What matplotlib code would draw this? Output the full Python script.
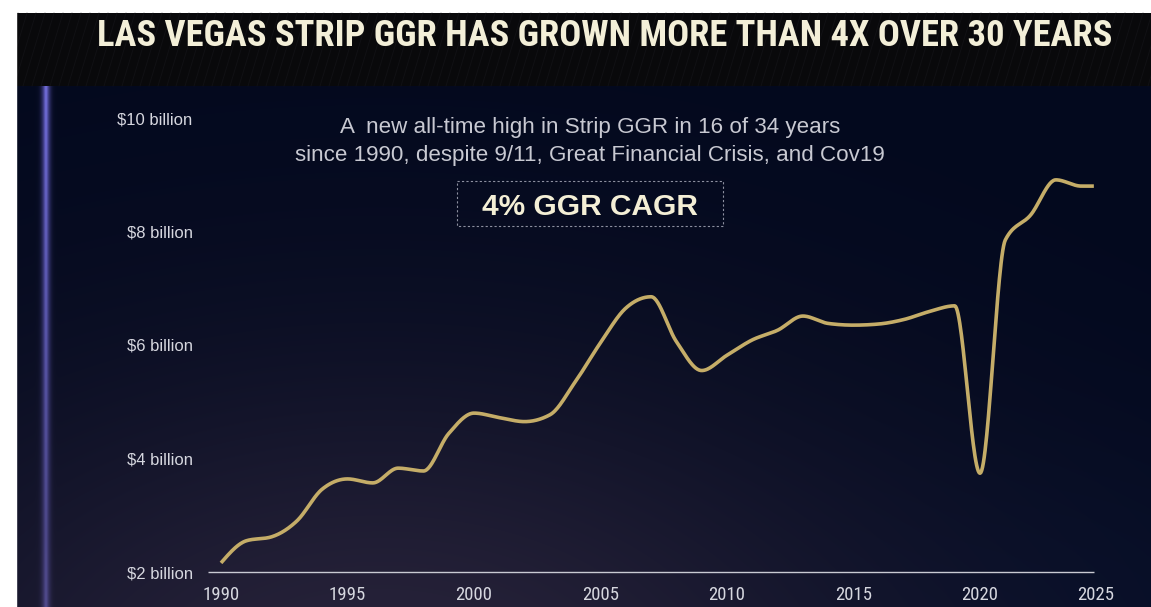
import numpy as np
import matplotlib
matplotlib.use("Agg")
import matplotlib.pyplot as plt
from matplotlib import font_manager
from matplotlib.patches import Rectangle
import matplotlib.transforms as mtransforms

# ---------------------------------------------------------------- data
years = [1990, 1991, 1992, 1993, 1994, 1995, 1996, 1997, 1998, 1999,
         2000, 2001, 2002, 2003, 2004, 2005, 2006, 2007, 2008, 2009,
         2010, 2011, 2012, 2013, 2014, 2015, 2016, 2017, 2018, 2019,
         2020, 2021, 2022, 2023, 2024, 2024.5]
ggr_billion = [2.16, 2.55, 2.62, 2.90, 3.46, 3.64, 3.57, 3.83, 3.78, 4.44,
               4.80, 4.72, 4.65, 4.77, 5.35, 6.04, 6.65, 6.85, 6.06, 5.55,
               5.82, 6.09, 6.26, 6.51, 6.38, 6.35, 6.37, 6.45, 6.59, 6.69,
               3.74, 7.85, 8.29, 8.91, 8.80, 8.80]
y_ticks = [2, 4, 6, 8, 10]
y_tick_labels = ["$2 billion", "$4 billion", "$6 billion", "$8 billion", "$10 billion"]
x_ticks = [1990, 1995, 2000, 2005, 2010, 2015, 2020, 2025]
x_tick_labels = ["1990", "1995", "2000", "2005", "2010", "2015", "2020", "2025"]

title = "LAS VEGAS STRIP GGR HAS GROWN MORE THAN 4X OVER 30 YEARS"
note_lines = ["A  new all-time high in Strip GGR in 16 of 34 years",
              "since 1990, despite 9/11, Great Financial Crisis, and Cov19"]
badge = "4% GGR CAGR"

# ---------------------------------------------------------------- fonts
installed = {f.name for f in font_manager.fontManager.ttflist}
def pick(*names):
    for n in names:
        if n in installed:
            return n
    return "DejaVu Sans"

narrow = pick("Liberation Sans Narrow", "Roboto Condensed", "Open Sans Condensed",
              "DejaVu Sans Condensed", "Liberation Sans")
body = pick("Liberation Sans", "Open Sans", "Noto Sans")

# ---------------------------------------------------------------- monotone curve
def monotone_x(x, y, n=30):
    x = np.asarray(x, float)
    y = np.asarray(y, float)
    h = np.diff(x)
    s = np.diff(y) / h
    m = np.zeros_like(y)
    for i in range(1, len(x) - 1):
        h0, h1 = h[i - 1], h[i]
        s0, s1 = s[i - 1], s[i]
        p = (s0 * h1 + s1 * h0) / (h0 + h1)
        m[i] = (np.sign(s0) + np.sign(s1)) * min(abs(s0), abs(s1), 0.5 * abs(p))
    m[0] = (3 * s[0] - m[1]) / 2
    m[-1] = (3 * s[-1] - m[-2]) / 2
    xs, ys = [], []
    for i in range(len(x) - 1):
        t = np.linspace(0, 1, n, endpoint=False)
        hh = h[i]
        h00 = 2 * t**3 - 3 * t**2 + 1
        h10 = t**3 - 2 * t**2 + t
        h01 = -2 * t**3 + 3 * t**2
        h11 = t**3 - t**2
        xs.append(x[i] + t * hh)
        ys.append(h00 * y[i] + h10 * hh * m[i] + h01 * y[i + 1] + h11 * hh * m[i + 1])
    xs.append([x[-1]])
    ys.append([y[-1]])
    return np.concatenate(xs), np.concatenate(ys)

# ---------------------------------------------------------------- figure
W, H = 1151, 607
fig = plt.figure(figsize=(W / 100, H / 100), dpi=100)
fig.patch.set_facecolor("white")

def fit_width(txt, target_px):
    fig.canvas.draw()
    w = txt.get_window_extent().width
    txt.set_fontsize(txt.get_fontsize() * target_px / w)

# backdrop: dark navy panel with a violet haze near the bottom
bg = fig.add_axes([0, 0, 1, 1])
bg.set_xlim(0, W)
bg.set_ylim(H, 0)
bg.axis("off")

yy, xx = np.mgrid[0:H, 0:W].astype(float)
navy = np.array([3, 9, 30], float)
violet = np.array([40, 35, 58], float)
glow = np.exp(-(((xx - 380) / 540) ** 2 + ((yy - 700) / 330) ** 2))
glow2 = np.exp(-(((xx - 1150) / 300) ** 2 + ((yy - 620) / 200) ** 2)) * 0.25
img = navy[None, None, :] * (1 - glow[..., None]) + violet[None, None, :] * glow[..., None]
img += np.array([6, 14, 28])[None, None, :] * glow2[..., None]
# vertical light beam on the left
beam = np.exp(-((xx - 45.5) / 4.5) ** 2)
beam_core = np.exp(-((xx - 45.5) / 1.8) ** 2)
fade = np.clip(1.0 - (yy - 86) / 900, 0.5, 1.0)
img += (np.array([78, 68, 135])[None, None, :] * beam[..., None] * fade[..., None])
img += (np.array([30, 30, 50])[None, None, :] * beam_core[..., None] * fade[..., None])
img = np.clip(img, 0, 255) / 255.0
# header band
img[13:86, :, :] = np.array([9, 9, 11]) / 255.0
# white page margin
img[:13, :, :] = 1.0
img[:, :16, :] = 1.0
bg.imshow(img, extent=(0, W, H, 0), aspect="auto", interpolation="bilinear")

# faint diagonal streaks in the header
for x0 in range(-40, W + 40, 9):
    bg.plot([x0, x0 + 22], [86, 13], color="#1a1a1f", lw=0.7, alpha=0.45,
            clip_on=True, zorder=2)
bg.add_patch(Rectangle((0, 0), 16, H, color="white", zorder=3))

# title
t = fig.text(0.5 * (97 + 1113) / W, 1 - 35.5 / H, title, ha="center", va="center",
             color="#f3efd8", fontsize=26, fontweight="bold", family=narrow)
fit_width(t, 1016)

# ---------------------------------------------------------------- chart axes
px_per_year = 25.3
x0_px = 221
ax_left, ax_right = 208, 1130
ax_top, ax_bottom = 100, 572
px_per_b = (572 - 118) / 8.0
xmin = 1990 - (x0_px - ax_left) / px_per_year
xmax = 1990 + (ax_right - x0_px) / px_per_year
ymax = 2 + (ax_bottom - ax_top) / px_per_b

ax = fig.add_axes([ax_left / W, 1 - ax_bottom / H, (ax_right - ax_left) / W,
                   (ax_bottom - ax_top) / H])
ax.set_facecolor("none")
ax.set_xlim(xmin, xmax)
ax.set_ylim(2, ymax)
for sp in ax.spines.values():
    sp.set_visible(False)

ax.hlines(2, xmin, years[-1], color="#c9cad3", lw=1.0, zorder=2, clip_on=False)

cx, cy = monotone_x(years, ggr_billion)
ax.plot(cx, cy, color="#c5ad68", lw=2.6, solid_capstyle="butt", zorder=3, clip_on=False)

ax.set_yticks(y_ticks)
ax.set_yticklabels(y_tick_labels)
ax.set_xticks(x_ticks)
ax.set_xticklabels(x_tick_labels)
ax.tick_params(axis="y", length=0, pad=11, labelsize=12, labelcolor="#d6d7df")
ax.tick_params(axis="x", length=0, pad=10, labelsize=13.5, labelcolor="#d6d7df")
for lab in ax.get_yticklabels():
    lab.set_family(body)
for lab in ax.get_xticklabels():
    lab.set_family(narrow)
last = ax.get_xticklabels()[-1]
last.set_transform(last.get_transform() +
                   mtransforms.ScaledTranslation(-11 / 100, 0, fig.dpi_scale_trans))

# ---------------------------------------------------------------- annotations
cx_px = 590
n1 = fig.text(cx_px / W, 1 - 128 / H, note_lines[0], ha="center", va="center",
              color="#c8c9d2", fontsize=15, family=body)
n2 = fig.text(cx_px / W, 1 - 155 / H, note_lines[1], ha="center", va="center",
              color="#c8c9d2", fontsize=15, family=body)
fit_width(n2, 588)
n1.set_fontsize(n2.get_fontsize())

box = Rectangle((457, 181), 266, 45, fill=False, edgecolor="#8d90a0",
                lw=0.8, linestyle=(0, (2, 2)), zorder=4)
bg.add_patch(box)
fig.text(cx_px / W, 1 - 207 / H, badge, ha="center", va="center",
         color="#f4efd6", fontsize=21.5, fontweight="bold", family=body)

fig.savefig("out.png", dpi=100, facecolor="white")
